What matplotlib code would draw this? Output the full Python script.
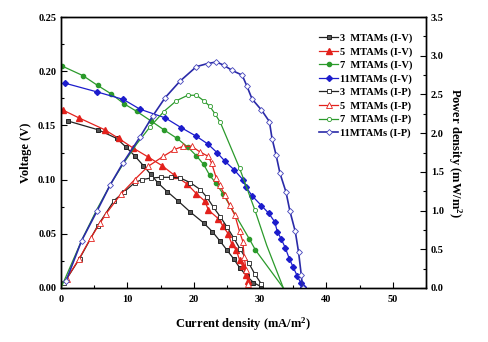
import matplotlib
matplotlib.use("Agg")
import matplotlib.pyplot as plt
from matplotlib.ticker import MultipleLocator

# ---- data ----
x3_iv = [1.1, 5.6, 8.4, 9.8, 11.1, 12.4, 13.5, 14.6, 16.0, 17.7, 19.5, 21.5, 22.8, 24.0, 25.0, 26.0, 27.0, 28.0, 29.0, 30.2]
v3_iv = [0.154, 0.146, 0.138, 0.130, 0.122, 0.113, 0.105, 0.097, 0.089, 0.080, 0.070, 0.060, 0.052, 0.043, 0.035, 0.027, 0.018, 0.011, 0.005, 0.001]

x5_iv = [0.35, 2.7, 6.6, 8.7, 10.9, 13.1, 15.2, 17.1, 19.0, 20.4, 21.7, 22.2, 23.7, 24.4, 25.2, 25.7, 26.4, 26.9, 27.4, 27.9, 28.2]
v5_iv = [0.164, 0.157, 0.146, 0.138, 0.129, 0.121, 0.113, 0.104, 0.096, 0.087, 0.080, 0.072, 0.064, 0.057, 0.050, 0.041, 0.035, 0.026, 0.020, 0.012, 0.006]

x7_iv = [0.1, 3.3, 5.5, 7.6, 9.5, 11.4, 13.6, 15.5, 17.5, 19.1, 20.4, 21.5, 22.4, 23.3, 24.4, 28.4, 29.3, 33.5]
v7_iv = [0.205, 0.196, 0.187, 0.179, 0.170, 0.163, 0.154, 0.146, 0.138, 0.130, 0.122, 0.114, 0.104, 0.097, 0.087, 0.045, 0.035, 0.0]

x11_iv = [0.6, 5.4, 9.4, 11.9, 15.7, 18.1, 20.4, 22.1, 23.5, 24.7, 26.1, 27.4, 27.9, 28.8, 30.2, 31.3, 32.2, 32.6, 33.2, 33.8, 34.4, 35.0, 35.6, 36.1, 36.5]
v11_iv = [0.189, 0.181, 0.174, 0.165, 0.157, 0.148, 0.140, 0.133, 0.125, 0.117, 0.109, 0.100, 0.093, 0.085, 0.076, 0.069, 0.061, 0.052, 0.045, 0.037, 0.027, 0.019, 0.011, 0.005, 0.001]

x3_ip = [0.5, 2.8, 5.5, 8.0, 9.5, 11.1, 12.2, 13.5, 15.0, 16.6, 18.0, 19.5, 21.0, 22.0, 23.0, 24.0, 25.0, 26.0, 27.0, 28.3, 29.2, 30.2]
p3_ip = [0.07, 0.38, 0.80, 1.13, 1.24, 1.36, 1.40, 1.42, 1.43, 1.43, 1.42, 1.36, 1.27, 1.17, 1.04, 0.92, 0.79, 0.65, 0.50, 0.32, 0.18, 0.05]

x5_ip = [0.85, 2.75, 4.5, 5.9, 6.8, 9.0, 11.1, 13.1, 15.4, 17.1, 18.4, 19.7, 20.9, 22.2, 22.7, 23.4, 23.9, 24.7, 25.4, 26.2, 26.9, 27.4, 27.6, 27.9, 28.2]
p5_ip = [0.12, 0.38, 0.65, 0.84, 0.96, 1.21, 1.40, 1.57, 1.70, 1.79, 1.83, 1.83, 1.76, 1.70, 1.61, 1.42, 1.33, 1.20, 1.07, 0.94, 0.73, 0.60, 0.40, 0.23, 0.05]

x7_ip = [0.1, 3.3, 5.5, 7.6, 9.5, 11.4, 13.4, 15.5, 17.4, 19.1, 20.4, 21.5, 22.4, 23.2, 24.0, 26.9, 29.2, 31.0, 33.5]
p7_ip = [0.02, 0.65, 1.03, 1.36, 1.62, 1.86, 2.08, 2.28, 2.42, 2.49, 2.49, 2.42, 2.35, 2.25, 2.14, 1.55, 1.01, 0.55, 0.0]

x11_ip = [0.75, 3.1, 5.4, 7.4, 9.3, 11.9, 13.8, 15.7, 17.9, 20.4, 22.1, 23.4, 24.5, 25.8, 27.3, 28.0, 28.8, 30.2, 31.4, 31.8, 32.4, 33.0, 33.9, 34.5, 35.3, 35.8, 36.2, 36.4]
p11_ip = [0.09, 0.61, 0.99, 1.33, 1.61, 1.95, 2.22, 2.46, 2.67, 2.86, 2.90, 2.92, 2.88, 2.81, 2.75, 2.61, 2.44, 2.30, 2.15, 1.93, 1.72, 1.48, 1.24, 0.99, 0.73, 0.46, 0.17, 0.0]

labels = ["3  MTAMs (I-V)", "5  MTAMs (I-V)", "7  MTAMs (I-V)", "11MTAMs (I-V)",
          "3  MTAMs (I-P)", "5  MTAMs (I-P)", "7  MTAMs (I-P)", "11MTAMs (I-P)"]

plt.rcParams['font.family'] = ['Liberation Serif', 'DejaVu Serif']
plt.rcParams['font.weight'] = 'bold'
plt.rcParams['mathtext.default'] = 'regular'

c_blk, c_red, c_grn, c_blu = '#222222', '#e3211c', '#2b9a2b', '#1c1ccc'

fig = plt.figure(figsize=(4.88, 3.42), dpi=100)
ax = fig.add_axes([0.125, 0.158, 0.748, 0.792])
ax2 = ax.twinx()

lw = 0.9
ms = 3.0
h = []
h += ax.plot(x3_iv, v3_iv, '-s', color=c_blk, mfc='#555555', mec=c_blk, ms=ms, lw=lw, mew=0.7)
h += ax.plot(x5_iv, v5_iv, '-^', color=c_red, mfc=c_red, mec=c_red, ms=ms + 0.8, lw=lw)
h += ax.plot(x7_iv, v7_iv, '-o', color=c_grn, mfc=c_grn, mec=c_grn, ms=ms, lw=lw,
             markevery=list(range(len(x7_iv) - 1)))
h += ax.plot(x11_iv, v11_iv, '-D', color=c_blu, mfc=c_blu, mec=c_blu, ms=ms, lw=lw)

h += ax2.plot(x3_ip, p3_ip, '-s', color=c_blk, mfc='white', mec=c_blk, ms=ms, lw=lw, mew=0.6)
h += ax2.plot(x5_ip, p5_ip, '-^', color=c_red, mfc='white', mec=c_red, ms=ms + 0.8, lw=lw, mew=0.6)
h += ax2.plot(x7_ip, p7_ip, '-o', color=c_grn, mfc='white', mec=c_grn, ms=ms, lw=lw, mew=0.6,
              markevery=list(range(6, 17)))
h += ax2.plot(x11_ip, p11_ip, '-D', color='#2a2aa8', mfc='white', mec='#4444bb', ms=ms, lw=lw + 0.3, mew=0.6)

ax.set_xlim(0, 55)
ax.set_ylim(0, 0.25)
ax2.set_ylim(0, 3.5)

ax.xaxis.set_major_locator(MultipleLocator(10))
ax.xaxis.set_minor_locator(MultipleLocator(5))
ax.yaxis.set_major_locator(MultipleLocator(0.05))
ax.yaxis.set_minor_locator(MultipleLocator(0.025))
ax2.yaxis.set_major_locator(MultipleLocator(0.5))
ax2.yaxis.set_minor_locator(MultipleLocator(0.25))

ax.yaxis.set_major_formatter(matplotlib.ticker.FormatStrFormatter('%.2f'))
ax2.yaxis.set_major_formatter(matplotlib.ticker.FormatStrFormatter('%.1f'))

for a in (ax, ax2):
    a.tick_params(which='both', direction='in', labelsize=7.5, width=0.8)
    a.tick_params(which='major', length=4)
    a.tick_params(which='minor', length=2.5)
    for s in a.spines.values():
        s.set_linewidth(1.0)
ax.tick_params(axis='x', pad=5)
ax.tick_params(axis='y', which='both', right=False)

ax.set_xlabel('Current density (mA/m$^2$)', fontsize=9, fontweight='bold', labelpad=8)
ax.set_ylabel('Voltage (V)', fontsize=9, fontweight='bold')
ax2.set_ylabel('Power density (mW/m$^2$)', fontsize=9, fontweight='bold', rotation=-90, labelpad=14)

leg = ax2.legend(h, labels, loc='upper right', bbox_to_anchor=(0.975, 0.955), frameon=False,
                 handlelength=1.8, handletextpad=0.2, labelspacing=0.38,
                 borderaxespad=0.0, prop={'weight': 'bold', 'size': 7.5})

fig.savefig('out.png', dpi=100)
